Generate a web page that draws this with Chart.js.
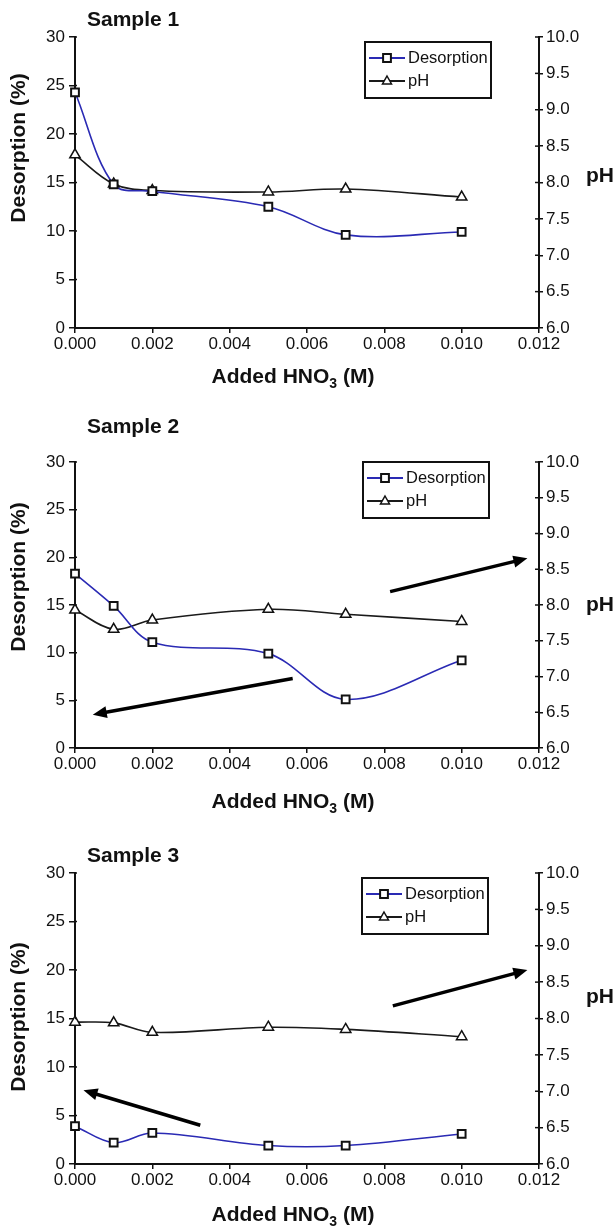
<!DOCTYPE html>
<html>
<head>
<meta charset="utf-8">
<script src="https://cdn.jsdelivr.net/npm/chart.js@4.4.0/dist/chart.umd.min.js"></script>
<style>
  html, body { margin: 0; padding: 0; background: #fff; }
  body { width: 614px; height: 1226px; position: relative; overflow: hidden; }
  canvas { position: absolute; left: 0; }
</style>
</head>
<body>
<canvas id="chart1" width="614" height="400" style="top:0px"></canvas>
<canvas id="chart2" width="614" height="420" style="top:400px"></canvas>
<canvas id="chart3" width="614" height="406" style="top:820px"></canvas>
<script>
// ===== Data =====
const addedHNO3 = [0, 0.001, 0.002, 0.005, 0.007, 0.010];

const desorption1 = [24.3, 14.8, 14.1, 12.5, 9.6, 9.9];
const ph1 = [8.38, 7.98, 7.89, 7.87, 7.91, 7.80];

const desorption2 = [18.3, 14.9, 11.1, 9.9, 5.1, 9.2];
const ph2 = [7.93, 7.66, 7.79, 7.94, 7.87, 7.77];

const desorption3 = [3.9, 2.2, 3.2, 1.9, 1.9, 3.1];
const ph3 = [7.95, 7.94, 7.81, 7.88, 7.85, 7.75];

const sampleNames = ['Sample 1', 'Sample 2', 'Sample 3'];
const seriesNames = ['Desorption', 'pH'];
const xTitleParts = ['Added HNO', '3', ' (M)'];
const yTitle = 'Desorption (%)';
const y2Title = 'pH';

// axis ranges
const xRange = [0, 0.012, 0.002];
const yRange = [0, 30, 5];
const y2Range = [6, 10, 0.5];

// arrows in data units: [fromX, fromY, tipX, tipY] (left axis units)
const arrows1 = [];
const arrows2 = [[0.00815, 16.4, 0.0117, 19.9], [0.00563, 7.3, 0.00046, 3.5]];
const arrows3 = [[0.00822, 16.3, 0.0117, 20.0], [0.00324, 4.0, 0.00022, 7.6]];

// ===== Styles =====
const FONT = "'Liberation Sans', Arial, Helvetica, sans-serif";
const INK = '#111';
const BLUE = '#2a2ab4';

const panels = [
  { id: 'chart1', name: sampleNames[0], des: desorption1, ph: ph1, arrows: arrows1,
    plotTop: 37, axisH: 72, titleY: 20, yTitleY: 148, phY: 176, xTitleY: 377, legend: { x: 365, y: 42 } },
  { id: 'chart2', name: sampleNames[1], des: desorption2, ph: ph2, arrows: arrows2,
    plotTop: 62, axisH: 72, titleY: 27, yTitleY: 177, phY: 205, xTitleY: 402, legend: { x: 363, y: 62 } },
  { id: 'chart3', name: sampleNames[2], des: desorption3, ph: ph3, arrows: arrows3,
    plotTop: 53, axisH: 62, titleY: 36, yTitleY: 197, phY: 177, xTitleY: 395, legend: { x: 362, y: 58 } }
];

function drawArrow(ctx, x0, y0, x1, y1) {
  const ang = Math.atan2(y1 - y0, x1 - x0);
  const head = 14, half = 6;
  const bx = x1 - head * Math.cos(ang), by = y1 - head * Math.sin(ang);
  ctx.strokeStyle = '#000';
  ctx.lineWidth = 3.5;
  ctx.beginPath();
  ctx.moveTo(x0, y0);
  ctx.lineTo(bx + 2 * Math.cos(ang), by + 2 * Math.sin(ang));
  ctx.stroke();
  ctx.fillStyle = '#000';
  ctx.beginPath();
  ctx.moveTo(x1, y1);
  ctx.lineTo(bx + half * Math.sin(ang), by - half * Math.cos(ang));
  ctx.lineTo(bx - half * Math.sin(ang), by + half * Math.cos(ang));
  ctx.closePath();
  ctx.fill();
}

function drawMarker(ctx, style, x, y) {
  ctx.fillStyle = '#fff';
  ctx.strokeStyle = INK;
  ctx.beginPath();
  if (style === 'rect') {
    ctx.lineWidth = 2;
    ctx.rect(x - 3.9, y - 3.9, 7.8, 7.8);
  } else {
    ctx.lineWidth = 1.5;
    ctx.moveTo(x, y - 5);
    ctx.lineTo(x + 4.5, y + 3);
    ctx.lineTo(x - 4.5, y + 3);
    ctx.closePath();
  }
  ctx.fill();
  ctx.stroke();
}

// ===== Plugin: texts, legend, arrows, inner ticks =====
function makeDecor(p) {
  return {
    id: 'decor',
    afterDraw(chart) {
      const ctx = chart.ctx;
      const area = chart.chartArea;
      const xs = chart.scales.x, ys = chart.scales.y, y2 = chart.scales.y1;
      ctx.save();

      // ticks crossing into the plot
      ctx.strokeStyle = INK;
      ctx.lineWidth = 1.5;
      y2.ticks.forEach((t, i) => {
        const py = y2.getPixelForTick(i);
        ctx.beginPath(); ctx.moveTo(area.right - 4, py); ctx.lineTo(area.right, py); ctx.stroke();
      });
      ys.ticks.forEach((t, i) => {
        const py = ys.getPixelForTick(i);
        ctx.beginPath(); ctx.moveTo(area.left, py); ctx.lineTo(area.left + 2, py); ctx.stroke();
      });

      // arrows
      p.arrows.forEach(a => drawArrow(ctx,
        xs.getPixelForValue(a[0]), ys.getPixelForValue(a[1]),
        xs.getPixelForValue(a[2]), ys.getPixelForValue(a[3])));

      // legend
      const lx = p.legend.x, ly = p.legend.y, lw = 126, lh = 56;
      ctx.fillStyle = '#fff';
      ctx.fillRect(lx, ly, lw, lh);
      ctx.strokeStyle = INK;
      ctx.lineWidth = 2;
      ctx.strokeRect(lx, ly, lw, lh);
      chart.data.datasets.forEach((ds, i) => {
        const cy = ly + 16 + i * 23;
        ctx.strokeStyle = ds.borderColor;
        ctx.lineWidth = 2;
        ctx.beginPath(); ctx.moveTo(lx + 4, cy); ctx.lineTo(lx + 40, cy); ctx.stroke();
        drawMarker(ctx, ds.pointStyle, lx + 22, cy);
        ctx.fillStyle = INK;
        ctx.font = '16.5px ' + FONT;
        ctx.textAlign = 'left';
        ctx.textBaseline = 'middle';
        ctx.fillText(ds.label, lx + 43, cy);
      });

      // titles
      ctx.fillStyle = INK;
      ctx.font = 'bold 21px ' + FONT;
      ctx.textAlign = 'left';
      ctx.textBaseline = 'middle';
      ctx.fillText(p.name, 87, p.titleY);
      ctx.fillText(y2Title, 586, p.phY);

      ctx.save();
      ctx.translate(19, p.yTitleY);
      ctx.rotate(-Math.PI / 2);
      ctx.textAlign = 'center';
      ctx.fillText(yTitle, 0, 0);
      ctx.restore();

      // x title with subscript
      const big = 'bold 21px ' + FONT, small = 'bold 14px ' + FONT;
      ctx.font = big;
      const w0 = ctx.measureText(xTitleParts[0]).width;
      const w2 = ctx.measureText(xTitleParts[2]).width;
      ctx.font = small;
      const w1 = ctx.measureText(xTitleParts[1]).width;
      let tx = 293 - (w0 + w1 + w2) / 2;
      ctx.textAlign = 'left';
      ctx.font = big;
      ctx.fillText(xTitleParts[0], tx, p.xTitleY);
      tx += w0;
      ctx.font = small;
      ctx.fillText(xTitleParts[1], tx, p.xTitleY + 7);
      tx += w1;
      ctx.font = big;
      ctx.fillText(xTitleParts[2], tx, p.xTitleY);

      ctx.restore();
    }
  };
}

const tickFont = { family: FONT, size: 17 };
const axisGrid = (len) => ({ drawOnChartArea: false, drawTicks: true, tickLength: len, color: INK, lineWidth: 1.5 });
const axisBorder = { display: true, color: INK, width: 2 };

panels.forEach(p => {
  new Chart(document.getElementById(p.id), {
    type: 'line',
    data: {
      datasets: [
        {
          label: seriesNames[0],
          data: addedHNO3.map((x, i) => ({ x: x, y: p.des[i] })),
          yAxisID: 'y',
          clip: false,
          borderColor: BLUE,
          borderWidth: 1.6,
          tension: 0.35,
          pointStyle: 'rect',
          pointRadius: 5.5,
          pointBorderWidth: 2,
          pointBackgroundColor: '#fff',
          pointBorderColor: INK
        },
        {
          label: seriesNames[1],
          data: addedHNO3.map((x, i) => ({ x: x, y: p.ph[i] })),
          yAxisID: 'y1',
          clip: false,
          borderColor: '#1a1a1a',
          borderWidth: 1.6,
          tension: 0.35,
          pointStyle: 'triangle',
          pointRadius: 6,
          pointBorderWidth: 1.5,
          pointBackgroundColor: '#fff',
          pointBorderColor: INK
        }
      ]
    },
    options: {
      responsive: false,
      animation: false,
      events: [],
      layout: { padding: { top: p.plotTop, left: 0, right: 0, bottom: 0 } },
      plugins: { legend: { display: false }, tooltip: { enabled: false } },
      scales: {
        x: {
          type: 'linear', min: xRange[0], max: xRange[1],
          ticks: { stepSize: xRange[2], callback: v => v.toFixed(3), font: tickFont, color: INK, padding: 1, maxRotation: 0, autoSkip: false },
          grid: axisGrid(5),
          border: axisBorder,
          afterFit: s => { s.height = p.axisH; }
        },
        y: {
          position: 'left', min: yRange[0], max: yRange[1],
          ticks: { stepSize: yRange[2], font: tickFont, color: INK, padding: 4 },
          grid: axisGrid(6),
          border: axisBorder,
          afterFit: s => { s.width = 75; }
        },
        y1: {
          position: 'right', min: y2Range[0], max: y2Range[1],
          ticks: { stepSize: y2Range[2], callback: v => v.toFixed(1), font: tickFont, color: INK, padding: 3 },
          grid: axisGrid(4),
          border: axisBorder,
          afterFit: s => { s.width = 75; }
        }
      }
    },
    plugins: [makeDecor(p)]
  });
});
</script>
</body>
</html>
